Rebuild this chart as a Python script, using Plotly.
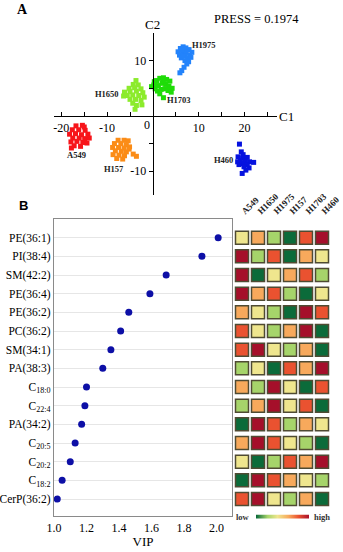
import plotly.graph_objects as go

W, H = 343, 552
def px(x): return x / W
def py(y): return 1 - y / H

SERIF = "Liberation Serif"

# ---------------- Panel A data (PLS-DA scores) ----------------
cluster_names = ["H1975", "H1703", "H1650", "A549", "H157", "H460"]
cluster_colors = ["#2383fb", "#1fdc08", "#8ceb2c", "#f7141a", "#fb8c17", "#0612df"]

h1975_x = [5.5, 6.0, 6.6, 7.2, 7.9, 8.5, 5.8, 6.5, 7.3, 8.0, 6.2, 6.9, 7.6, 8.3, 7.0, 7.4, 6.8, 6.3, 5.9, 7.8, 6.4]
h1975_y = [11.6, 12.2, 12.5, 12.3, 12.0, 11.5, 11.0, 11.4, 11.5, 11.0, 10.5, 10.8, 10.4, 10.6, 10.0, 9.4, 8.8, 8.2, 7.8, 9.8, 11.9]

h1703_x = [0.2, 0.8, 1.5, 2.3, 3.0, 3.7, 0.5, 1.2, 2.0, 2.8, 3.5, 4.2, 1.0, 1.8, 2.6, 3.3, 4.0, 1.5, 2.3, 0.3, 2.2, -0.3]
h1703_y = [5.6, 6.4, 6.8, 6.9, 6.6, 6.3, 4.9, 5.5, 5.9, 5.7, 5.4, 5.0, 4.5, 4.8, 4.9, 4.6, 4.3, 4.0, 3.3, 6.2, 6.3, 5.3]

h1650_x = [-3.7, -4.3, -3.2, -5.2, -4.0, -2.6, -6.2, -5.0, -3.6, -2.2, -5.6, -4.4, -3.1, -1.9, -5.0, -3.8, -2.6, -4.4, -2.4, -3.6, -3.9, -6.4]
h1650_y = [6.4, 5.7, 5.6, 5.0, 5.1, 4.9, 4.3, 4.4, 4.5, 4.2, 3.7, 3.8, 3.7, 3.4, 3.0, 3.0, 2.8, 2.3, 2.0, 1.9, 1.2, 3.6]

a549_x = [-16.8, -15.4, -17.6, -16.2, -14.8, -18.2, -16.9, -15.6, -14.2, -17.5, -16.1, -14.9, -13.9, -17.9, -16.6, -15.3, -14.4, -17.2, -15.8, -17.8, -15.0]
a549_y = [-1.8, -1.7, -2.5, -2.5, -2.6, -3.3, -3.2, -3.4, -3.3, -4.0, -4.0, -4.1, -4.0, -4.7, -4.6, -4.8, -4.9, -5.4, -5.5, -5.8, -2.0]

h157_x = [-7.6, -6.3, -5.4, -8.4, -7.0, -5.8, -8.8, -7.5, -6.3, -5.1, -8.2, -6.9, -5.8, -8.7, -7.4, -6.2, -7.9, -6.6, -4.3, -3.6, -5.2]
h157_y = [-4.4, -4.4, -4.5, -5.0, -5.0, -5.2, -5.7, -5.7, -5.8, -5.6, -6.3, -6.4, -6.5, -7.0, -7.1, -7.2, -7.7, -7.8, -6.9, -7.3, -6.0]

h460_x = [18.9, 19.3, 19.7, 18.6, 19.6, 20.6, 19.1, 20.1, 21.1, 22.0, 18.5, 19.6, 20.6, 19.9, 21.0, 20.3, 19.5, 18.8]
h460_y = [-5.1, -6.5, -7.0, -7.4, -7.6, -7.5, -8.0, -8.1, -8.3, -8.4, -8.3, -8.6, -8.8, -9.2, -9.4, -9.8, -10.4, -8.8]

cluster_x = [h1975_x, h1703_x, h1650_x, a549_x, h157_x, h460_x]
cluster_y = [h1975_y, h1703_y, h1650_y, a549_y, h157_y, h460_y]
label_x = [11.1, 5.7, -10.0, -16.7, -8.4, 15.4]
label_y = [12.8, 2.9, 4.0, -7.0, -9.6, -8.0]

c1_ticks = [-20, -15, -10, -5, 5, 10, 15, 20, 25]
c1_ticktext = ["-20", "", "-10", "", "", "10", "", "20", ""]
c2_ticks = [-10, -5, 5, 10]
c2_ticktext = ["-10", "", "", "10"]
press_text = "PRESS = 0.1974"

# ---------------- Panel B data (VIP + heatmap) ----------------
lipids = ["PE(36:1)", "PI(38:4)", "SM(42:2)", "PE(36:4)", "PE(36:2)", "PC(36:2)",
          "SM(34:1)", "PA(38:3)", "C<sub>18:0</sub>", "C<sub>22:4</sub>", "PA(34:2)",
          "C<sub>20:5</sub>", "C<sub>20:2</sub>", "C<sub>18:2</sub>", "CerP(36:2)"]
vip = [2.01, 1.91, 1.69, 1.59, 1.46, 1.41, 1.35, 1.30, 1.20, 1.19, 1.17, 1.13, 1.10, 1.05, 1.02]
vip_ticks = [1.0, 1.2, 1.4, 1.6, 1.8, 2.0]

cell_lines = ["A549", "H1650", "H1975", "H157", "H1703", "H460"]
# relative level rank per lipid (1 = low ... 6 = high), columns in cell_lines order
levels = [
    [3, 4, 2, 1, 5, 6],
    [6, 2, 5, 1, 4, 3],
    [6, 1, 3, 4, 5, 2],
    [6, 4, 5, 2, 1, 3],
    [4, 3, 2, 1, 6, 5],
    [5, 3, 2, 4, 6, 1],
    [5, 6, 3, 2, 4, 1],
    [2, 3, 1, 5, 4, 6],
    [4, 2, 6, 3, 1, 5],
    [2, 4, 6, 3, 5, 1],
    [1, 6, 5, 2, 4, 3],
    [4, 6, 5, 3, 2, 1],
    [3, 1, 2, 5, 4, 6],
    [1, 6, 5, 4, 3, 2],
    [5, 6, 3, 2, 4, 1],
]
legend_levels = [1, 2, 3, 4, 5, 6]
colorscale = [[0.0, "#0b6b3a"], [0.2, "#a6d46a"], [0.4, "#efe68e"],
              [0.6, "#f7a95c"], [0.8, "#ea5230"], [1.0, "#a50f2a"]]

fig = go.Figure()

# Panel A
for name, col, xs, ys in zip(cluster_names, cluster_colors, cluster_x, cluster_y):
    fig.add_trace(go.Scatter(x=xs, y=ys, mode="markers", name=name,
                             marker=dict(symbol="square", size=5, color=col),
                             xaxis="x", yaxis="y", showlegend=False, hoverinfo="skip"))

# Panel B: VIP dots
row_idx = list(range(len(lipids)))
fig.add_trace(go.Scatter(x=vip, y=row_idx, mode="markers",
                         marker=dict(size=7, color="#0d0fa6"),
                         xaxis="x2", yaxis="y2", showlegend=False))

# Panel B: heatmap cells
hx, hy, hv = [], [], []
for i, row in enumerate(levels):
    for j, v in enumerate(row):
        hx.append(j)
        hy.append(i)
        hv.append(v)
fig.add_trace(go.Scatter(
    x=hx, y=hy, mode="markers", xaxis="x3", yaxis="y3", showlegend=False,
    marker=dict(symbol="square", size=13, color=hv, colorscale=colorscale, cmin=1, cmax=6,
                line=dict(width=1.5, color="#4f4b33"), showscale=False)))

# low-high gradient key
fig.add_trace(go.Heatmap(z=[legend_levels], x=list(range(len(legend_levels))), y=[0],
                         colorscale=colorscale, zmin=1, zmax=6, zsmooth="best",
                         showscale=False, xaxis="x4", yaxis="y4", hoverinfo="skip"))

axis_font = dict(family=SERIF, size=12, color="black")
yr = [14.91, -1.0]

fig.update_layout(
    width=W, height=H, margin=dict(l=0, r=0, t=0, b=0, autoexpand=False),
    paper_bgcolor="white", plot_bgcolor="white", showlegend=False,
    xaxis=dict(domain=[px(54), px(277)], range=[-21.6, 27.1], anchor="free", position=py(116),
               showline=True, linecolor="black", linewidth=1.2, ticks="inside", ticklen=4,
               tickcolor="black", tickvals=c1_ticks, ticktext=c1_ticktext,
               showgrid=False, zeroline=False, tickfont=axis_font),
    yaxis=dict(domain=[py(195), py(33)], range=[-14.3, 15], anchor="free", position=px(152.7),
               showline=True, linecolor="black", linewidth=1.2, ticks="outside", ticklen=4,
               tickcolor="black", tickvals=c2_ticks, ticktext=c2_ticktext,
               showgrid=False, zeroline=False, tickfont=axis_font),
    xaxis2=dict(domain=[px(54), px(232)], range=[1.0, 2.095], anchor="y2",
                tickvals=vip_ticks, ticktext=["%.1f" % t for t in vip_ticks],
                showline=True, mirror=True, linecolor="#8a8a8a", linewidth=1.2,
                showgrid=False, zeroline=False, ticks="", tickfont=axis_font,
                title=dict(text="VIP", font=dict(family=SERIF, size=13, color="black"), standoff=0)),
    yaxis2=dict(domain=[py(516), py(219)], range=yr, anchor="x2",
                tickvals=row_idx, ticktext=lipids, showline=True, mirror=True,
                linecolor="#8a8a8a", linewidth=1.2, showgrid=True, gridcolor="#e6e6e6",
                gridwidth=1, zeroline=False, ticks="",
                tickfont=dict(family=SERIF, size=11.5, color="black")),
    xaxis3=dict(domain=[px(234), px(330)], range=[-0.5, 5.5], anchor="y3", side="top",
                tickvals=list(range(len(cell_lines))),
                ticktext=["<b>%s</b>" % c for c in cell_lines], tickangle=-45,
                showline=False, showgrid=False, zeroline=False, ticks="",
                tickfont=dict(family=SERIF, size=9, color="#222")),
    yaxis3=dict(domain=[py(516), py(219)], range=yr, anchor="x3", visible=False),
    xaxis4=dict(domain=[px(256), px(309)], range=[0, 5], anchor="y4", visible=False),
    yaxis4=dict(domain=[py(519), py(514.5)], range=[-0.5, 0.5], anchor="x4", visible=False),
)

def paper_text(x, y, text, font):
    return dict(x=px(x), y=py(y), xref="paper", yref="paper", text=text, showarrow=False,
                xanchor="center", yanchor="middle", font=font)

ann = []
for name, lx, ly in zip(cluster_names, label_x, label_y):
    ann.append(dict(x=lx, y=ly, xref="x", yref="y", text="<b>%s</b>" % name, showarrow=False,
                    xanchor="center", yanchor="middle",
                    font=dict(family=SERIF, size=8.5, color="#222")))
ann += [
    paper_text(22, 10, "<b>A</b>", dict(family=SERIF, size=14, color="black")),
    paper_text(23, 205, "<b>B</b>", dict(family="Liberation Sans", size=13, color="black")),
    paper_text(256, 19, press_text, dict(family=SERIF, size=12.5, color="black")),
    paper_text(146.7, 125, "0", axis_font),
    paper_text(286, 116, "C1", dict(family=SERIF, size=13, color="black")),
    paper_text(152.7, 25, "C2", dict(family=SERIF, size=13, color="black")),
    paper_text(243, 517, "<b>low</b>", dict(family=SERIF, size=8.5, color="#333")),
    paper_text(322, 517, "<b>high</b>", dict(family=SERIF, size=8.5, color="#333")),
]
fig.update_layout(annotations=ann)

# remove the browser's default page margin so the figure fills the window exactly
fig.write_html("out.html", config={"displayModeBar": False},
               post_script="document.body.style.margin='0';document.body.style.overflow='hidden';")
